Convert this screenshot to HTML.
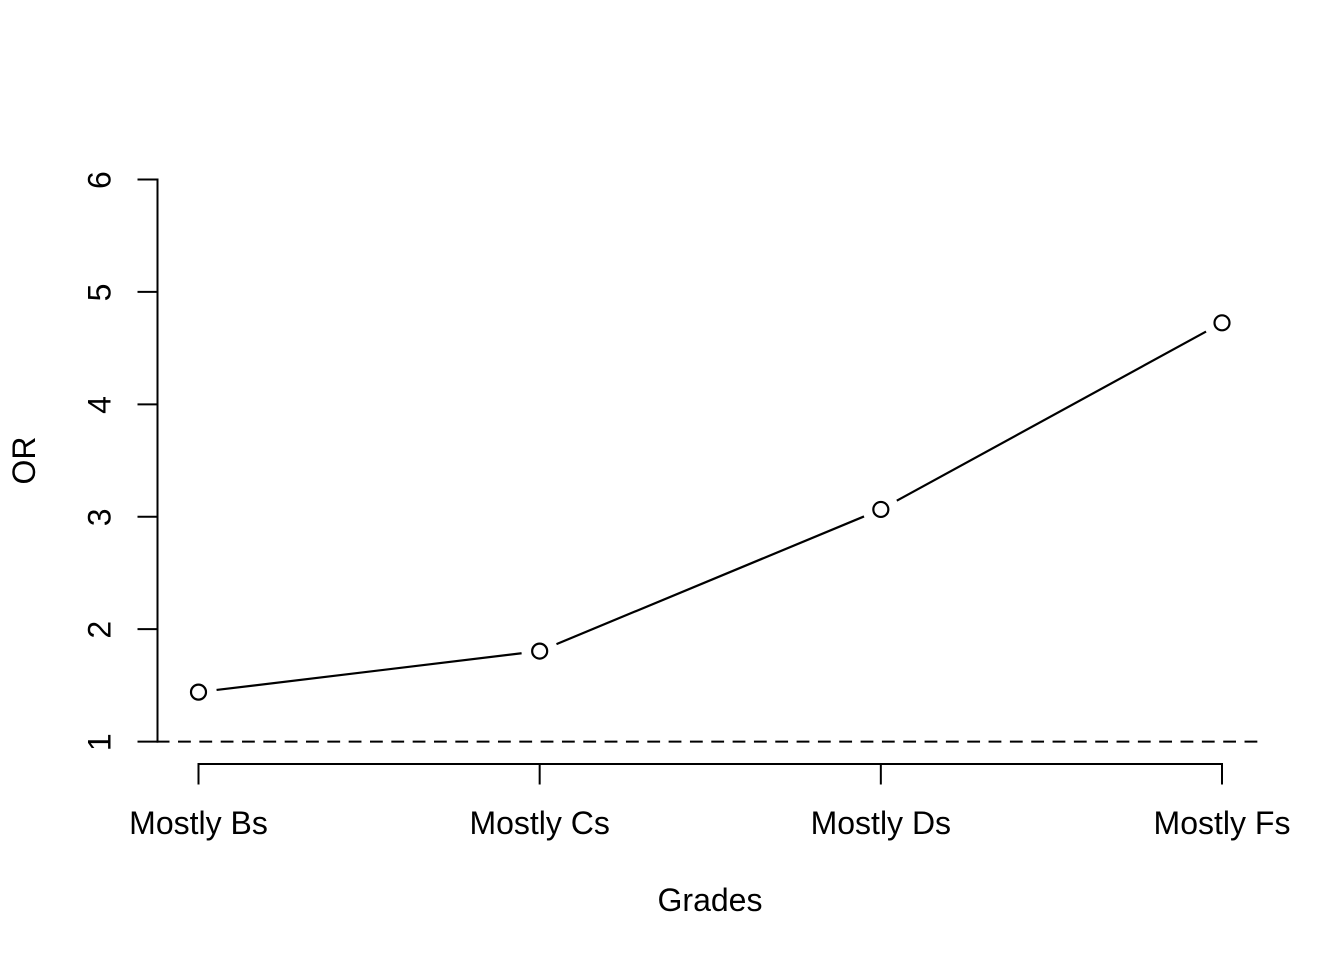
<!DOCTYPE html>
<html lang="en">
<head>
<meta charset="utf-8">
<title>OR by Grades</title>
<style>
html,body{margin:0;padding:0;background:#fff;}
#chart{display:block;width:1344px;height:960px;}
text{font-family:"Liberation Sans",Arial,sans-serif;font-size:32px;fill:#000;}
</style>
</head>
<body>
<svg id="chart" xmlns="http://www.w3.org/2000/svg" width="1344" height="960" viewBox="0 0 1344 960">
  <g id="x-axis"></g>
  <g id="y-axis"></g>
  <g id="series"></g>
  <text x="710" y="911" text-anchor="middle">Grades</text>
  <text transform="translate(35 460.5) rotate(-90)" text-anchor="middle">OR</text>
</svg>
<script>
var categories = ["Mostly Bs", "Mostly Cs", "Mostly Ds", "Mostly Fs"];
var orValues = [1.44, 1.805, 3.065, 4.725];
var yTickValues = [1, 2, 3, 4, 5, 6];
var referenceValue = [1];

var SVG_NS = "http://www.w3.org/2000/svg";
function xScale(i) { return 198.5 + i * (1222 - 198.5) / (categories.length - 1); }
function yScale(v) { return 741.6 - (v - 1) * (741.6 - 179.5) / 5; }

function make(tag, parent, attrs) {
  var el = document.createElementNS(SVG_NS, tag);
  for (var k in attrs) { el.setAttribute(k, attrs[k]); }
  parent.appendChild(el);
  return el;
}
var stroke = { stroke: "#000", "stroke-width": 2, fill: "none", "stroke-linecap": "butt" };
function withStroke(attrs) {
  var out = {};
  for (var k in stroke) { out[k] = stroke[k]; }
  for (var j in attrs) { out[j] = attrs[j]; }
  return out;
}

var xAxis = document.getElementById("x-axis");
var yAxis = document.getElementById("y-axis");
var series = document.getElementById("series");

/* y axis */
var yLine = make("line", yAxis, withStroke({
  x1: 157.5, x2: 157.5,
  y1: yScale(yTickValues[0]) + 1,
  y2: yScale(yTickValues[yTickValues.length - 1]) - 1
}));



yTickValues.forEach(function (v) {
  var tick = make("line", yAxis, withStroke({ x1: 137.5, x2: 157.5, y1: yScale(v), y2: yScale(v) }));
  
  
  var label = make("text", yAxis, {
    transform: "translate(110.7 " + (yScale(v) + 0.6) + ") rotate(-90)",
    "text-anchor": "middle"
  });
  label.textContent = String(v);
  
  
});

/* x axis */
var xLine = make("line", xAxis, withStroke({
  x1: xScale(0) - 1, x2: xScale(categories.length - 1) + 1, y1: 764, y2: 764
}));



categories.forEach(function (c, i) {
  var tick = make("line", xAxis, withStroke({ x1: xScale(i), x2: xScale(i), y1: 764, y2: 784.5 }));
  
  
  var label = make("text", xAxis, { x: xScale(i), y: 834, "text-anchor": "middle" });
  label.textContent = c;
  
  
});

/* dashed reference line */
var refLine = make("line", series, withStroke({
  x1: 156.7, x2: 1263, y1: yScale(referenceValue[0]), y2: yScale(referenceValue[0]),
  "stroke-dasharray": "12.8 8.53"
}));



/* type="b" segments, with a gap around each point */
var GAP = 18.2;
for (var i = 0; i < orValues.length - 1; i++) {
  var x0 = xScale(i), y0 = yScale(orValues[i]);
  var x1 = xScale(i + 1), y1 = yScale(orValues[i + 1]);
  var len = Math.sqrt((x1 - x0) * (x1 - x0) + (y1 - y0) * (y1 - y0));
  var ux = (x1 - x0) / len, uy = (y1 - y0) / len;
  var seg = make("line", series, withStroke({
    x1: x0 + ux * GAP, y1: y0 + uy * GAP,
    x2: x1 - ux * GAP, y2: y1 - uy * GAP,
    "stroke-width": 2.2
  }));
  
  
}

orValues.forEach(function (v, i) {
  var pt = make("circle", series, withStroke({ cx: xScale(i), cy: yScale(v), r: 7.5, "stroke-width": 2.2 }));
  
  
});
</script>
</body>
</html>
